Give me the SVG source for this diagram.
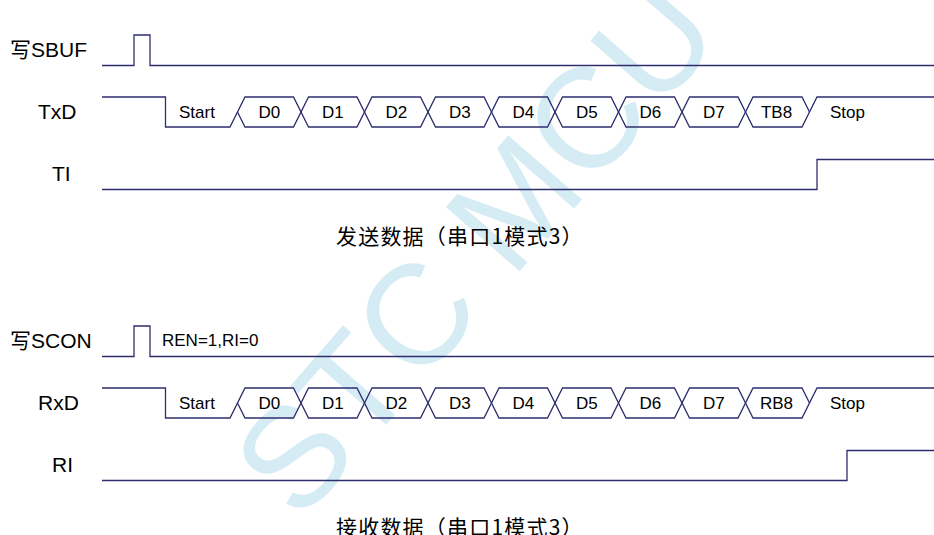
<svg xmlns="http://www.w3.org/2000/svg" width="934" height="535" viewBox="0 0 934 535">
<style>
.w{fill:none;stroke:#2e2e6e;stroke-width:1.3;stroke-linejoin:miter}
.lab{font-family:"Liberation Sans","Noto Sans CJK SC",sans-serif;font-size:21px;fill:#000}
.bit{font-family:"Liberation Sans",Arial,sans-serif;font-size:17px;fill:#000}
.mid{text-anchor:middle}
.cap{font-family:"Noto Sans CJK SC","Noto Sans CJK JP",sans-serif;font-size:21px;letter-spacing:1.2px;fill:#000}
.wm{font-family:"Liberation Sans",Arial,sans-serif;font-size:142px;fill:#d6ecf5}
</style>
<rect width="934" height="535" fill="#fff"/>
<g id="watermark">
<text class="wm mid" x="512" y="280" transform="rotate(-49 512 280)">STC MCU</text>
</g>
<g id="connectors">
<g id="tx-waves">
<path class="w" d="M102,65.5 H134 V35 H150 V65.5 H934"/>
<path class="w" d="M102,97 H165.5 V127 H230 L245,97 H293.5 L308.5,127 H357 L372,97 H420.5 L435.5,127 H484 L499,97 H547.5 L562.5,127 H611 L626,97 H674.5 L689.5,127 H738 L753,97 H802 L809.5,112"/>
<path class="w" d="M237.5,112 L245,127 H293.5 L308.5,97 H357 L372,127 H420.5 L435.5,97 H484 L499,127 H547.5 L562.5,97 H611 L626,127 H674.5 L689.5,97 H738 L753,127 H802 L817,97 H934"/>
<path class="w" d="M102,189.5 H817 V159.5 H934"/>
</g>
<g id="rx-waves" transform="translate(0,291)">
<path class="w" d="M102,65.5 H134 V35 H150 V65.5 H934"/>
<path class="w" d="M102,97 H165.5 V127 H230 L245,97 H293.5 L308.5,127 H357 L372,97 H420.5 L435.5,127 H484 L499,97 H547.5 L562.5,127 H611 L626,97 H674.5 L689.5,127 H738 L753,97 H802 L809.5,112"/>
<path class="w" d="M237.5,112 L245,127 H293.5 L308.5,97 H357 L372,127 H420.5 L435.5,97 H484 L499,127 H547.5 L562.5,97 H611 L626,127 H674.5 L689.5,97 H738 L753,127 H802 L817,97 H934"/>
<path class="w" d="M102,189.5 H847 V159.5 H934"/>
</g>
</g>
<g id="sbuf"><text class="lab" x="10" y="57">写SBUF</text></g>
<g id="txd">
<text class="lab" x="38" y="119">TxD</text>
<text class="bit" x="179" y="118">Start</text>
<text class="bit mid" x="269.3" y="118">D0</text>
<text class="bit mid" x="332.8" y="118">D1</text>
<text class="bit mid" x="396.3" y="118">D2</text>
<text class="bit mid" x="459.8" y="118">D3</text>
<text class="bit mid" x="523.3" y="118">D4</text>
<text class="bit mid" x="586.8" y="118">D5</text>
<text class="bit mid" x="650.3" y="118">D6</text>
<text class="bit mid" x="713.8" y="118">D7</text>
<text class="bit mid" x="776.5" y="118">TB8</text>
<text class="bit" x="830" y="118">Stop</text>
</g>
<g id="ti"><text class="lab" x="52" y="181">TI</text></g>
<g id="cap-tx"><text class="cap" x="336" y="244">发送数据（串口1模式3）</text></g>
<g id="scon">
<text class="lab" x="10" y="348">写SCON</text>
<text class="bit" x="162" y="346">REN=1,RI=0</text>
</g>
<g id="rxd">
<text class="lab" x="38" y="410">RxD</text>
<text class="bit" x="179" y="409">Start</text>
<text class="bit mid" x="269.3" y="409">D0</text>
<text class="bit mid" x="332.8" y="409">D1</text>
<text class="bit mid" x="396.3" y="409">D2</text>
<text class="bit mid" x="459.8" y="409">D3</text>
<text class="bit mid" x="523.3" y="409">D4</text>
<text class="bit mid" x="586.8" y="409">D5</text>
<text class="bit mid" x="650.3" y="409">D6</text>
<text class="bit mid" x="713.8" y="409">D7</text>
<text class="bit mid" x="776.5" y="409">RB8</text>
<text class="bit" x="830" y="409">Stop</text>
</g>
<g id="ri"><text class="lab" x="52" y="472">RI</text></g>
<g id="cap-rx"><text class="cap" x="336" y="535">接收数据（串口1模式3）</text></g>
</svg>
